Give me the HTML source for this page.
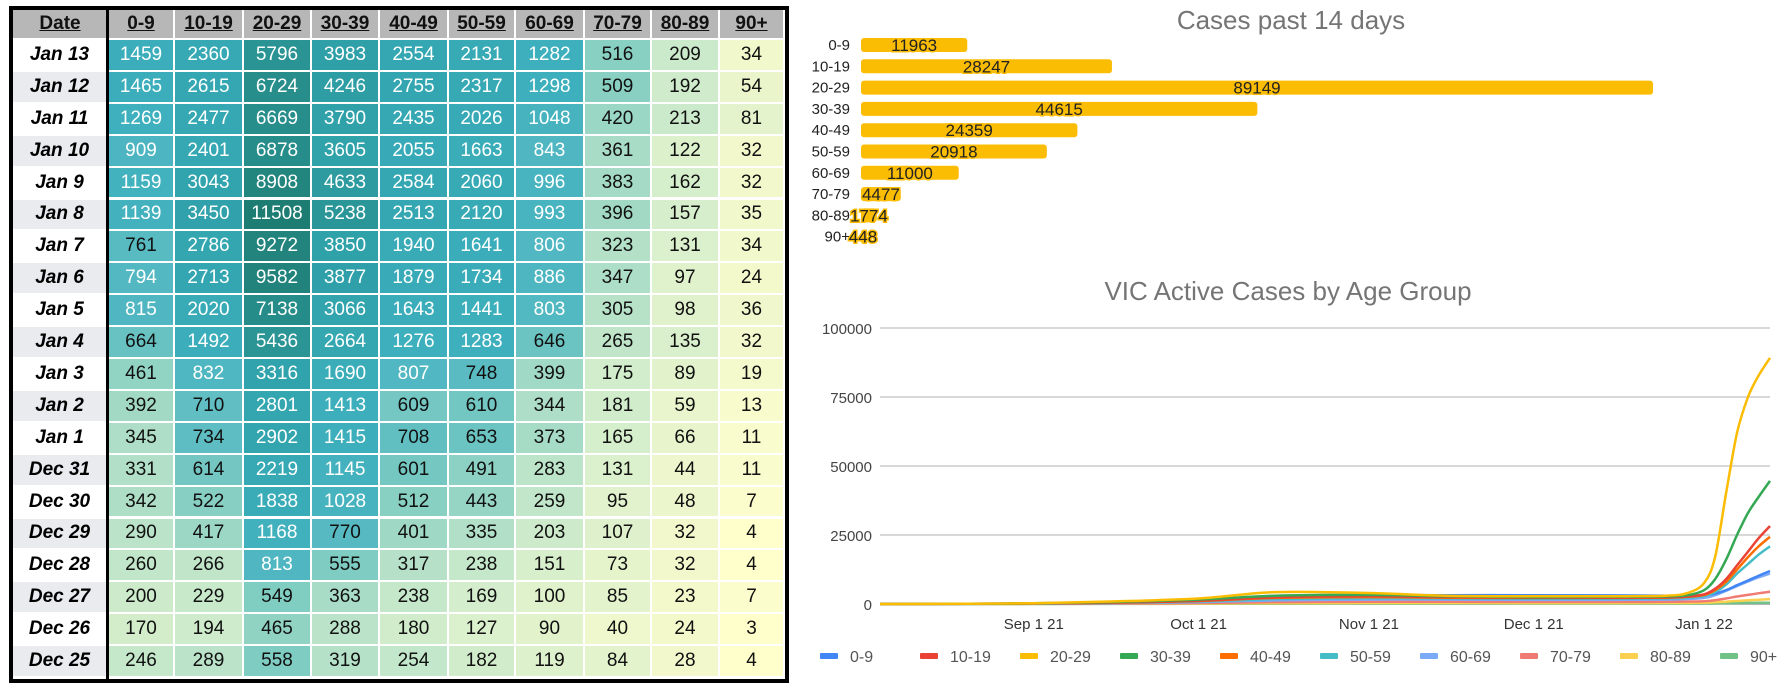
<!DOCTYPE html>
<html><head><meta charset="utf-8">
<style>
html,body{margin:0;padding:0;background:#fff;width:1782px;height:699px;overflow:hidden;font-family:"Liberation Sans",sans-serif;}
#tbl{position:absolute;left:9px;top:6px;border:4px solid #000;box-sizing:border-box;width:780px;height:677px;}
.cell{position:absolute;box-sizing:border-box;display:flex;align-items:center;justify-content:center;font-size:19px;border-right:2px solid #fff;border-bottom:2px solid #fff;}
.hdr{background:#b7b7b7;font-weight:bold;text-decoration:underline;color:#111;}
.date{font-weight:bold;font-style:italic;color:#000;font-size:19px;}
svg text{font-family:"Liberation Sans",sans-serif;}
</style></head><body>
<div id="tbl"></div>
<svg id="charts" width="1782" height="699" style="position:absolute;left:0;top:0;pointer-events:none"></svg>
<script>
const ageGroups=["0-9","10-19","20-29","30-39","40-49","50-59","60-69","70-79","80-89","90+"];
const dates=["Jan 13","Jan 12","Jan 11","Jan 10","Jan 9","Jan 8","Jan 7","Jan 6","Jan 5","Jan 4","Jan 3","Jan 2","Jan 1","Dec 31","Dec 30","Dec 29","Dec 28","Dec 27","Dec 26","Dec 25"];
const tableValues=[
[1459,2360,5796,3983,2554,2131,1282,516,209,34],
[1465,2615,6724,4246,2755,2317,1298,509,192,54],
[1269,2477,6669,3790,2435,2026,1048,420,213,81],
[909,2401,6878,3605,2055,1663,843,361,122,32],
[1159,3043,8908,4633,2584,2060,996,383,162,32],
[1139,3450,11508,5238,2513,2120,993,396,157,35],
[761,2786,9272,3850,1940,1641,806,323,131,34],
[794,2713,9582,3877,1879,1734,886,347,97,24],
[815,2020,7138,3066,1643,1441,803,305,98,36],
[664,1492,5436,2664,1276,1283,646,265,135,32],
[461,832,3316,1690,807,748,399,175,89,19],
[392,710,2801,1413,609,610,344,181,59,13],
[345,734,2902,1415,708,653,373,165,66,11],
[331,614,2219,1145,601,491,283,131,44,11],
[342,522,1838,1028,512,443,259,95,48,7],
[290,417,1168,770,401,335,203,107,32,4],
[260,266,813,555,317,238,151,73,32,4],
[200,229,549,363,238,169,100,85,23,7],
[170,194,465,288,180,127,90,40,24,3],
[246,289,558,319,254,182,119,84,28,4]];
const barCategories=ageGroups;
const barValues=[11963,28247,89149,44615,24359,20918,11000,4477,1774,448];
// line chart: day offsets from Aug 4 2021
const lineDays=[0,16,28,42,58,72,89,103,119,133,143,147,150,152,154,156,158,160,162];
const s0_9=[0,60,200,500,1200,2600,3200,3200,3200,3100,3000,3000,3200,3800,5000,6800,8500,10300,11963];
const s10_19=[0,60,200,500,1200,2400,2800,2500,2300,2300,2400,2700,3500,5500,9000,14000,19000,24000,28247];
const s20_29=[0,100,300,900,2000,4300,4000,3000,2800,2800,3000,4000,7600,17000,40000,62000,75000,83000,89149];
const s30_39=[0,80,250,700,1600,3000,3300,2800,2500,2600,2700,3200,5000,9000,16000,25000,33000,39000,44615];
const s40_49=[0,60,180,450,1100,2200,2500,2300,2200,2200,2300,2600,3300,5000,8000,12500,17000,21000,24359];
const s50_59=[0,50,150,400,900,1800,2100,2000,1900,1900,2000,2300,2900,4300,7000,11000,14500,18000,20918];
const s60_69=[0,40,120,300,700,1300,1600,1600,1500,1500,1600,1800,2200,3200,4800,6500,8200,9700,11000];
const s70_79=[0,20,60,150,350,700,800,800,750,750,800,900,1000,1400,2000,2700,3300,3900,4477];
const s80_89=[0,10,30,70,150,300,350,350,330,330,350,380,420,600,850,1100,1350,1550,1774];
const s90p=[0,5,15,30,60,120,140,140,130,130,140,150,170,220,280,340,390,420,448];
const yTicks=[0,25000,50000,75000,100000];
const xTickLabels=["Sep 1 21","Oct 1 21","Nov 1 21","Dec 1 21","Jan 1 22"];
const xTickDays=[28,58,89,119,150];

// ---- table ----
const tbl=document.getElementById('tbl');
const colX=[0,96,162,231,299,367,436,503,572,639,707,772];
const rowH=31.9, hdrH=30;
const stops=[[0.6,[255,255,204]],[1.5,[242,248,204]],[1.86,[230,244,204]],[2.18,[216,239,204]],[2.38,[198,232,202]],[2.5,[182,225,200]],[2.72,[134,207,194]],[2.91,[80,183,194]],[3.11,[62,176,189]],[3.36,[54,169,181]],[3.6,[47,160,168]],[3.76,[42,147,147]],[4.06,[30,125,114]]];
function colorFor(v){const l=Math.log10(Math.max(v,1));if(l<=stops[0][0])return 'rgb('+stops[0][1]+')';
for(let i=1;i<stops.length;i++){if(l<=stops[i][0]){const a=stops[i-1],b=stops[i];const t=(l-a[0])/(b[0]-a[0]);return 'rgb('+a[1].map((c,k)=>Math.round(c+(b[1][k]-c)*t)).join(',')+')';}}
return 'rgb('+stops[stops.length-1][1]+')';}
function mk(x,y,w,h,txt,cls,bg,col){const d=document.createElement('div');d.className='cell '+cls;d.style.left=x+'px';d.style.top=y+'px';d.style.width=w+'px';d.style.height=h+'px';if(bg)d.style.background=bg;if(col)d.style.color=col;d.textContent=txt;tbl.appendChild(d);return d;}
let h=mk(0,0,96,hdrH,'Date','hdr');


ageGroups.forEach((g,j)=>{const c=mk(colX[j+1],0,colX[j+2]-colX[j+1],hdrH,g,'hdr');

});
dates.forEach((d,i)=>{const y=hdrH+i*rowH;
const dc=mk(0,y,93,rowH,d,'date',i%2?'#e9ebef':'#fff');
dc.style.borderRight='none';


tableValues[i].forEach((v,j)=>{const c=mk(colX[j+1],y,colX[j+2]-colX[j+1],rowH,v,'',colorFor(v),v>775?'#fff':'#111');

});});
const sep=document.createElement('div');sep.style.cssText='position:absolute;left:93px;top:0;width:3px;height:100%;background:#000';tbl.appendChild(sep);



// ---- svg charts ----
const NS='http://www.w3.org/2000/svg';const svg=document.getElementById('charts');
function el(t,a,p){const e=document.createElementNS(NS,t);for(const k in a)e.setAttribute(k,a[k]);(p||svg).appendChild(e);return e;}
function tx(x,y,s,a){const e=el('text',Object.assign({x:x,y:y},a));e.textContent=s;return e;}
// bar chart
let t=tx(1291,29,'Cases past 14 days',{'font-size':26,fill:'#757575','text-anchor':'middle'});


const bx0=861,bScale=(1653-861)/89149;
function bxs(v){return bx0+v*bScale;}
function bys(i){return 45+i*21.3;}
barCategories.forEach((c,i)=>{const yc=bys(i);
const lab=tx(850,yc+5,c,{'font-size':15,fill:'#222','text-anchor':'end'});


const r=el('rect',{x:bx0,y:yc-7,width:Math.max(bxs(barValues[i])-bx0,2),height:14,rx:3,fill:'#fbbc04'});


const vl=tx((bx0+bxs(barValues[i]))/2,yc+6,barValues[i],{'font-size':17,fill:'#222','text-anchor':'middle',stroke:'#fbbc04','stroke-width':3,'paint-order':'stroke'});

});
// line chart
t=tx(1288,300,'VIC Active Cases by Age Group',{'font-size':26,fill:'#757575','text-anchor':'middle'});


const px0=880,px1=1770,py0=604,pyScale=69/25000;
function xs(d){return px0+d*(px1-px0)/162;}
function ys(v){return py0-v*pyScale;}
yTicks.forEach(v=>{const g=el('line',{x1:px0,x2:px1,y1:ys(v),y2:ys(v),stroke:v===0?'#999':'#ccc','stroke-width':1.5});


const l=tx(872,ys(v)+6,v,{'font-size':15,fill:'#444','text-anchor':'end'});

});
xTickLabels.forEach((s,i)=>{const l=tx(xs(xTickDays[i]),629,s,{'font-size':15,fill:'#333','text-anchor':'middle'});

});
const series=[s0_9,s10_19,s20_29,s30_39,s40_49,s50_59,s60_69,s70_79,s80_89,s90p];
const colors=['#4285f4','#ea4335','#fbbc04','#34a853','#ff6d01','#46bdc6','#7baaf7','#f07b72','#fcd04f','#71c287'];
function smooth(pts){let d='M'+pts[0][0]+','+pts[0][1];for(let i=0;i<pts.length-1;i++){const p0=pts[Math.max(i-1,0)],p1=pts[i],p2=pts[i+1],p3=pts[Math.min(i+2,pts.length-1)];
const c1x=p1[0]+(p2[0]-p0[0])/6,c1y=p1[1]+(p2[1]-p0[1])/6,c2x=p2[0]-(p3[0]-p1[0])/6,c2y=p2[1]-(p3[1]-p1[1])/6;
d+=' C'+c1x.toFixed(1)+','+Math.min(c1y,py0).toFixed(1)+' '+c2x.toFixed(1)+','+Math.min(c2y,py0).toFixed(1)+' '+p2[0].toFixed(1)+','+p2[1].toFixed(1);}return d;}
const order=[9,8,7,6,0,5,4,1,3,2];
order.forEach(k=>{const pts=lineDays.map((d,i)=>[xs(d),ys(series[k][i])]);
const p=el('path',{d:smooth(pts),fill:'none',stroke:colors[k],'stroke-width':2.5,'stroke-linejoin':'round'});

});
ageGroups.forEach((g,i)=>{const x=820+i*100;
const sw=el('rect',{x:x,y:653,width:18,height:6,rx:1,fill:colors[i]});


const l=tx(x+30,662,g,{'font-size':16,fill:'#555'});

});
</script>
</body></html>
